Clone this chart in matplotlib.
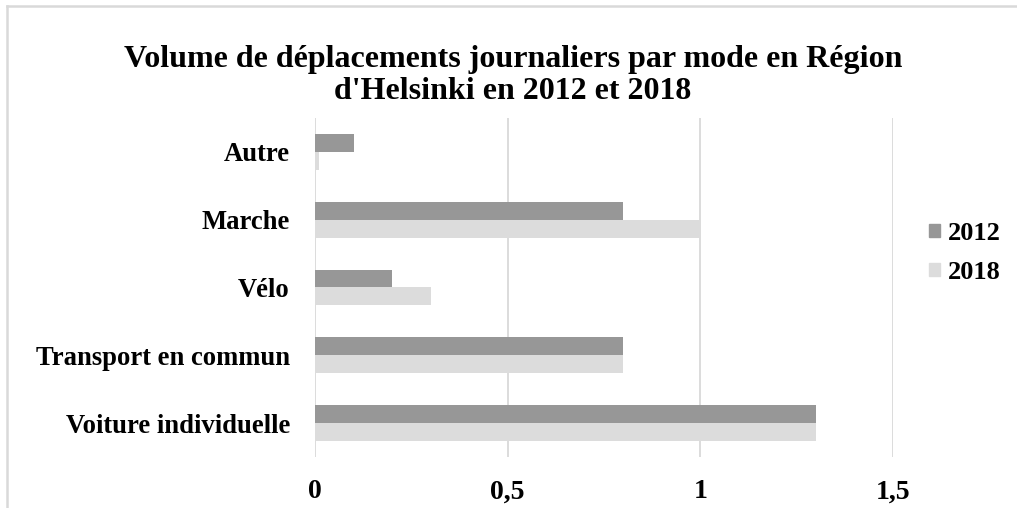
import numpy as np
import matplotlib.pyplot as plt
from matplotlib.lines import Line2D

# Données (millions de déplacements / jour)
categories = ["Voiture individuelle", "Transport en commun", "Vélo", "Marche", "Autre"]
values_2012 = [1.3, 0.8, 0.2, 0.8, 0.1]
values_2018 = [1.3, 0.8, 0.3, 1.0, 0.01]
series_labels = ["2012", "2018"]
xticks = [0, 0.5, 1, 1.5]
xtick_labels = ["0", "0,5", "1", "1,5"]

COLOR_2012 = "#979797"
COLOR_2018 = "#dcdcdc"
GRID_COLOR = "#d9d9d9"

plt.rcParams["font.family"] = ["Liberation Serif", "DejaVu Serif"]
plt.rcParams["font.weight"] = "bold"

fig = plt.figure(figsize=(10.17, 5.08), dpi=100)
W, H = 1017, 508
# zone de tracé en pixels : x 315..893, y 118..457
ax = fig.add_axes([315 / W, 1 - 457 / H, (893 - 315) / W, (457 - 118) / H])

y = np.arange(len(categories))
bar_h = 36 / 68 / 2
ax.barh(y + bar_h / 2, values_2012, height=bar_h, color=COLOR_2012,
        label=series_labels[0], zorder=3)
ax.barh(y - bar_h / 2, values_2018, height=bar_h, color=COLOR_2018,
        label=series_labels[1], zorder=3)

ax.set_xlim(0, 1.5)
ax.set_ylim(-0.5, len(categories) - 0.5)
ax.set_xticks(xticks)
ax.set_xticklabels(xtick_labels, fontsize=20, fontweight="bold")
ax.set_yticks(y)
ax.set_yticklabels(categories, fontsize=19.2, fontweight="bold")
ax.tick_params(axis="both", length=0)
ax.tick_params(axis="x", pad=16)
ax.tick_params(axis="y", pad=18)
ax.grid(True, axis="x", color=GRID_COLOR, linewidth=1.3, zorder=0)
for s in ax.spines.values():
    s.set_visible(False)

fig.suptitle("Volume de déplacements journaliers par mode en Région\nd'Helsinki en 2012 et 2018",
             x=513 / W, y=1 - 45 / H, fontsize=23, fontweight="bold", linespacing=1.12,
             va="top")

handles = [plt.Rectangle((0, 0), 1, 1, color=COLOR_2012),
           plt.Rectangle((0, 0), 1, 1, color=COLOR_2018)]
fig.legend(handles, series_labels, loc="center left",
           bbox_to_anchor=(905 / W, 1 - 253 / H), frameon=False,
           prop={"size": 19, "weight": "bold"}, handlelength=0.42,
           handleheight=0.42, handletextpad=0.3, labelspacing=0.6)

# bordure du cadre (haut et gauche)
fig.add_artist(Line2D([7 / W, 1], [1 - 6 / H, 1 - 6 / H], color=GRID_COLOR, linewidth=1.8))
fig.add_artist(Line2D([7 / W, 7 / W], [0, 1 - 6 / H], color=GRID_COLOR, linewidth=1.8))

fig.savefig("out.png", dpi=100)
